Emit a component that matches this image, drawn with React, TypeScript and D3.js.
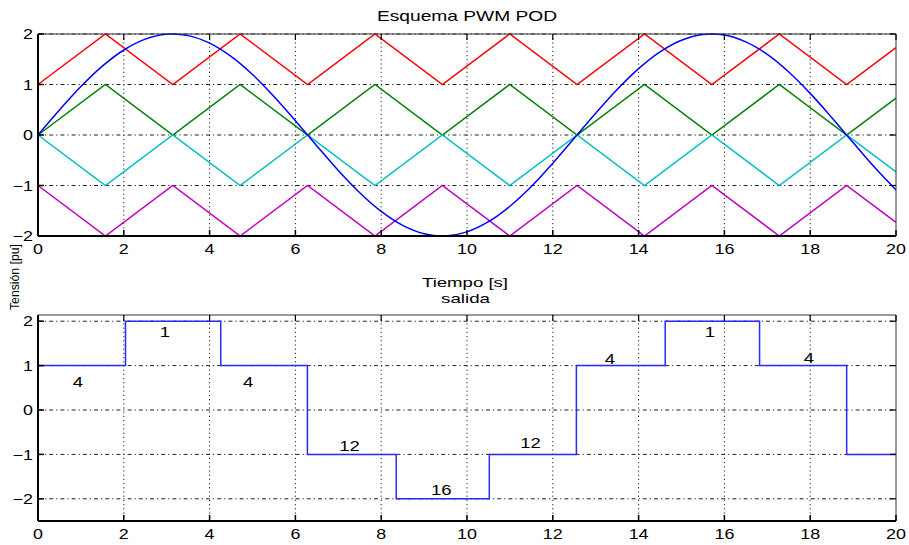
import React from "react";
import * as d3 from "d3";

const W = 909;
const H = 545;

// Carrier vertices (x in s)
const carrierX = [0, 1.571, 3.142, 4.712, 6.283, 7.854, 9.425, 10.996, 12.566, 14.137, 15.708, 17.279, 18.85, 20];
const redY = [1, 2, 1, 2, 1, 2, 1, 2, 1, 2, 1, 2, 1, 1.73];
const greenY = [0, 1, 0, 1, 0, 1, 0, 1, 0, 1, 0, 1, 0, 0.73];
const cyanY = [0, -1, 0, -1, 0, -1, 0, -1, 0, -1, 0, -1, 0, -0.73];
const magentaY = [-1, -2, -1, -2, -1, -2, -1, -2, -1, -2, -1, -2, -1, -1.73];

// Modulating signal sampled every 0.5 s
const sineX = [0, 0.5, 1, 1.5, 2, 2.5, 3, 3.5, 4, 4.5, 5, 5.5, 6, 6.5, 7, 7.5, 8, 8.5, 9, 9.5, 10, 10.5, 11, 11.5, 12, 12.5, 13, 13.5, 14, 14.5, 15, 15.5, 16, 16.5, 17, 17.5, 18, 18.5, 19, 19.5, 20];
const sineY = [0, 0.495, 0.959, 1.363, 1.683, 1.898, 1.995, 1.968, 1.819, 1.556, 1.197, 0.763, 0.282, -0.216, -0.702, -1.143, -1.514, -1.79, -1.955, -1.998, -1.918, -1.717, -1.411, -1.021, -0.559, -0.066, 0.43, 0.9, 1.314, 1.646, 1.876, 1.989, 1.979, 1.843, 1.596, 1.248, 0.824, 0.348, -0.15, -0.64, -1.088];

// Output staircase: level holds from stepX[i] to stepX[i+1]
const stepX = [0, 2.04, 4.26, 6.28, 8.35, 10.52, 12.55, 14.62, 16.82, 18.85, 20];
const stepLevel = [1, 2, 1, -1, -2, -1, 1, 2, 1, -1];

// Annotations
const noteText = ["4", "1", "4", "12", "16", "12", "4", "1", "4"];
const noteX = [0.93, 2.96, 4.9, 7.26, 9.4, 11.48, 13.33, 15.66, 17.97];
const noteY = [0.63, 1.75, 0.63, -0.81, -1.8, -0.74, 1.15, 1.75, 1.17];

const xTicks = [0, 2, 4, 6, 8, 10, 12, 14, 16, 18, 20];
const yTicksTop = [-2, -1, 0, 1, 2];
const yTicksBottom = [-2, -1, 0, 1, 2];

const FONT = "'Liberation Sans', Arial, Helvetica, sans-serif";
const fmt = (v: number) => (v < 0 ? "\u2212" + Math.abs(v) : String(v));

const left = 38;
const right = 896;
const SX = 1.28;

function T({
  x,
  y,
  size,
  anchor = "middle",
  sx = SX,
  children,
}: {
  x: number;
  y: number;
  size: number;
  anchor?: string;
  sx?: number;
  children: React.ReactNode;
}) {
  return (
    <text
      transform={`translate(${x},${y}) scale(${sx},1)`}
      textAnchor={anchor}
      dominantBaseline="central"
      fontFamily={FONT}
      fontSize={size}
      fill="#000"
    >
      {children}
    </text>
  );
}

function Panel({
  top,
  bottom,
  yDomain,
  yTicks,
  children,
}: {
  top: number;
  bottom: number;
  yDomain: [number, number];
  yTicks: number[];
  children: (x: d3.ScaleLinear<number, number>, y: d3.ScaleLinear<number, number>) => React.ReactNode;
}) {
  const x = d3.scaleLinear().domain([0, 20]).range([left, right]);
  const y = d3.scaleLinear().domain(yDomain).range([bottom, top]);
  return (
    <g>
      {xTicks.slice(1, -1).map((t) => (
        <line key={"gx" + t} x1={x(t)} x2={x(t)} y1={top} y2={bottom} stroke="#222" strokeWidth={1} strokeDasharray="1.2,3" />
      ))}
      {yTicks.map((t) => (
        <line key={"gy" + t} x1={left} x2={right} y1={y(t)} y2={y(t)} stroke="#222" strokeWidth={1} strokeDasharray="4,3,1.2,3" />
      ))}
      {children(x, y)}
      <line x1={left} x2={right} y1={top} y2={top} stroke="#333" strokeWidth={1} />
      <line x1={right} x2={right} y1={top} y2={bottom} stroke="#333" strokeWidth={1} />
      <line x1={left} x2={right} y1={bottom} y2={bottom} stroke="#000" strokeWidth={2} />
      <line x1={left} x2={left} y1={top} y2={bottom} stroke="#000" strokeWidth={2} />
      {xTicks.map((t) => (
        <g key={"tx" + t}>
          <line x1={x(t)} x2={x(t)} y1={bottom} y2={bottom - 6} stroke="#000" strokeWidth={1.5} />
          <line x1={x(t)} x2={x(t)} y1={top} y2={top + 6} stroke="#000" strokeWidth={1.2} />
          <T x={x(t)} y={bottom + 13} size={14}>
            {t}
          </T>
        </g>
      ))}
      {yTicks.map((t) => (
        <g key={"ty" + t}>
          <line x1={left} x2={left + 6} y1={y(t)} y2={y(t)} stroke="#000" strokeWidth={1.5} />
          <line x1={right} x2={right - 6} y1={y(t)} y2={y(t)} stroke="#000" strokeWidth={1.2} />
          <T x={left - 5} y={y(t)} size={14} anchor="end">
            {fmt(t)}
          </T>
        </g>
      ))}
    </g>
  );
}

export default function App() {
  const straight = (xs: number[], ys: number[], x: any, y: any) =>
    d3
      .line<number>()
      .x((_, i) => x(xs[i]))
      .y((v) => y(v))(ys) || "";
  const smooth = (xs: number[], ys: number[], x: any, y: any) =>
    d3
      .line<number>()
      .curve(d3.curveCatmullRom)
      .x((_, i) => x(xs[i]))
      .y((v) => y(v))(ys) || "";

  const carriers: [number[], string][] = [
    [redY, "#ff0000"],
    [greenY, "#008000"],
    [cyanY, "#00bfbf"],
    [magentaY, "#bf00bf"],
  ];

  return (
    <svg width={W} height={H} style={{ display: "block", position: "absolute", left: 0, top: 0 }}>
      <rect width={W} height={H} fill="#fff" />
      <T x={467} y={16} size={15}>
        Esquema PWM POD
      </T>
      <Panel top={34} bottom={236} yDomain={[-2, 2]} yTicks={yTicksTop}>
        {(x, y) => (
          <g>
            {carriers.map(([ys, c]) => (
              <path key={c} d={straight(carrierX, ys, x, y)} fill="none" stroke={c} strokeWidth={1.5} />
            ))}
            <path d={smooth(sineX, sineY, x, y)} fill="none" stroke="#0000ff" strokeWidth={1.5} />
          </g>
        )}
      </Panel>
      <text
        x={465}
        y={283}
        textAnchor="middle"
        dominantBaseline="central"
        fontFamily={FONT}
        fontSize={12}
        textLength={86}
        lengthAdjust="spacingAndGlyphs"
      >
        Tiempo [s]
      </text>
      <text
        x={465.5}
        y={298}
        textAnchor="middle"
        dominantBaseline="central"
        fontFamily={FONT}
        fontSize={13}
        textLength={49}
        lengthAdjust="spacingAndGlyphs"
      >
        salida
      </text>
      <text
        transform="translate(15,277) rotate(-90)"
        textAnchor="middle"
        dominantBaseline="central"
        fontFamily={FONT}
        fontSize={12}
        textLength={66}
        lengthAdjust="spacingAndGlyphs"
      >
        Tensión [pu]
      </text>
      <Panel top={315} bottom={521} yDomain={[-2.5, 2.14]} yTicks={yTicksBottom}>
        {(x, y) => {
          const pts: [number, number][] = [];
          stepLevel.forEach((lv, i) => {
            pts.push([stepX[i], lv]);
            pts.push([stepX[i + 1], lv]);
          });
          const d =
            d3
              .line<[number, number]>()
              .x((p) => x(p[0]))
              .y((p) => y(p[1]))(pts) || "";
          return (
            <g>
              <path d={d} fill="none" stroke="#2a2aff" strokeWidth={1.5} />
              {noteText.map((t, i) => (
                <T key={i} x={x(noteX[i])} y={y(noteY[i])} size={14.5}>
                  {t}
                </T>
              ))}
            </g>
          );
        }}
      </Panel>
    </svg>
  );
}
